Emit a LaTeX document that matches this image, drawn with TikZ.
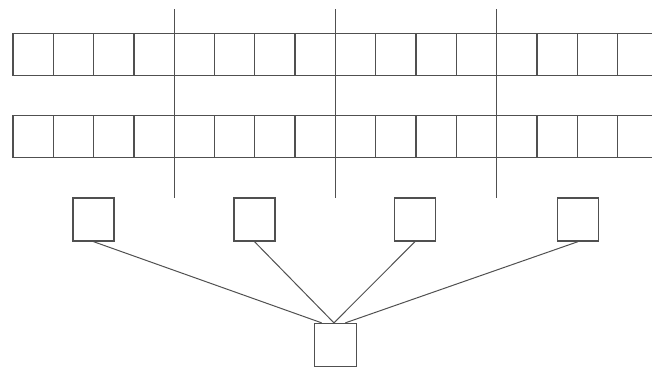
\documentclass[tikz,border=0pt]{standalone}
\usepackage{tikz}
\usetikzlibrary{positioning}
\definecolor{ln}{RGB}{80,80,80}
\begin{document}
\begin{tikzpicture}[x=1pt,y=-1pt,
  grd/.style={draw=ln,line width=1.3pt},
  sq/.style={rectangle,draw=ln,line width=1.3pt,inner sep=0pt,minimum width=41pt,minimum height=43pt},
  link/.style={draw=ln,line width=1pt}]
  \useasboundingbox (0,0) rectangle (652,367);
  \clip (0,0) rectangle (652,367);
  % two rows of cells
  \foreach \y in {33.5,115.5}{
    \draw[grd](13,\y) rectangle (658,\y+42);
    \foreach \i in {1,...,15}\draw[grd]({13+40.3*\i},\y)--({13+40.3*\i},\y+42);}
  % separators
  \foreach \k/\x in {1/174.2,2/335.4,3/496.6}{
    \coordinate(t\k)at(\x,9);\coordinate(u\k)at(\x,198);
    \draw[grd,line width=1.4pt](t\k)--(u\k);}
  \node[sq](s1)at(93.5,219.5){};\node[sq](s2)at(254.5,219.5){};
  \node[sq](s3)at(415,219.5){};\node[sq](s4)at(578,219.5){};
  \node[sq,minimum width=42pt](r)at(335.5,345){};
  \draw[link](s1.south)--(r.122);\draw[link](s2.south)--(r.94);
  \draw[link](s3.south)--(r.94);\draw[link](s4.south)--(r.66);
\end{tikzpicture}
\end{document}
